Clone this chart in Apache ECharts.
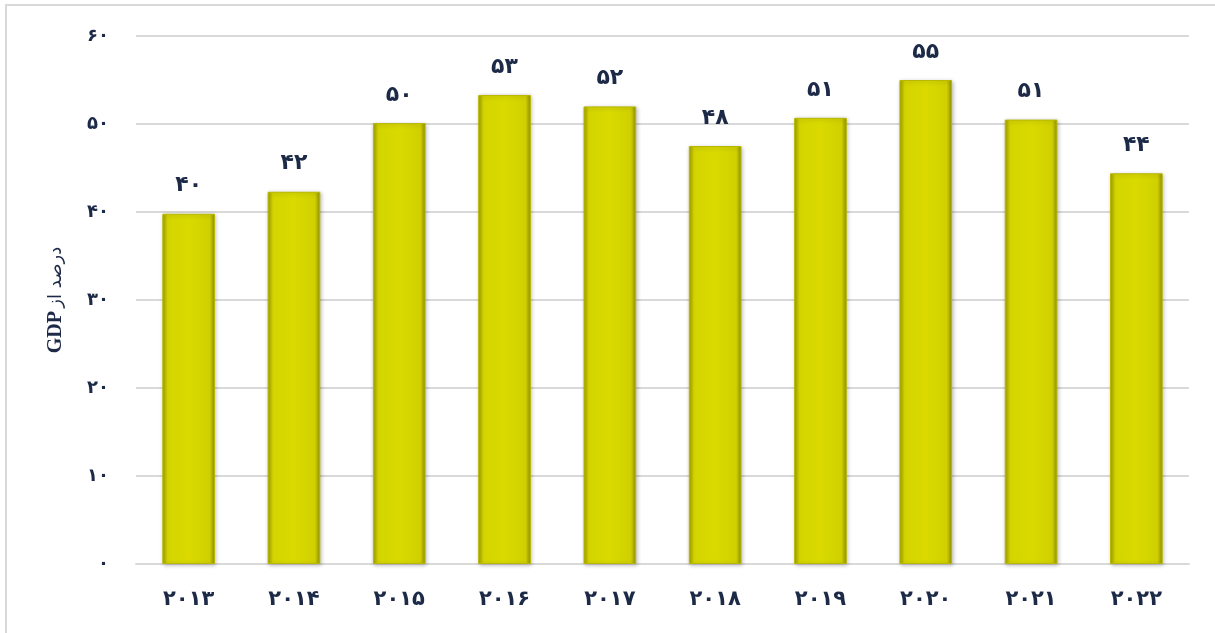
<!DOCTYPE html>
<html>
<head>
<meta charset="utf-8">
<style>
  html, body { margin: 0; padding: 0; background: #fff; overflow: hidden; }
  #frame { position: absolute; left: 5px; top: 4px; width: 1300px; height: 700px; border: 2px solid #d9d9d9; }
  #chart { position: absolute; left: 0; top: 0; width: 1215px; height: 633px; }
</style>
<script src="https://cdn.jsdelivr.net/npm/echarts@6/dist/echarts.min.js"></script>
</head>
<body>
<div id="frame"></div>
<div id="chart"></div>
<script>
// years and share of GDP (percent)
const years = ['2013', '2014', '2015', '2016', '2017', '2018', '2019', '2020', '2021', '2022']
const values = [39.8, 42.3, 50.1, 53.3, 52.0, 47.5, 50.7, 55.0, 50.5, 44.4]
const yTicks = [0, 10, 20, 30, 40, 50, 60]

const faDigits = '۰۱۲۳۴۵۶۷۸۹'
function toFa(v) {
  return String(v).replace(/[0-9]/g, d => faDigits[+d])
}

const textColor = '#1c2a48'
const chart = echarts.init(document.getElementById('chart'))

const option = {
  animation: false,
  grid: { left: 136, right: 26, top: 36, bottom: 69 },
  xAxis: {
    type: 'category',
    data: years,
    axisTick: { show: false },
    axisLine: { lineStyle: { color: '#d9d9d9', width: 2 } },
    axisLabel: {
      margin: 25,
      color: textColor,
      fontFamily: 'DejaVu Sans',
      fontWeight: 'bold',
      fontSize: 21,
      formatter: v => toFa(v)
    }
  },
  yAxis: {
    type: 'value',
    min: yTicks[0],
    max: yTicks[yTicks.length - 1],
    interval: 10,
    name: '{g|GDP} {p|درصد از}',
    nameLocation: 'middle',
    nameRotate: 90,
    nameGap: 70,
    nameTextStyle: {
      color: textColor,
      rich: {
        g: { fontFamily: 'Liberation Serif', fontWeight: 'bold', fontSize: 20, color: textColor },
        p: { fontFamily: 'DejaVu Sans', fontSize: 18, color: textColor }
      }
    },
    axisLabel: {
      margin: 27,
      color: textColor,
      fontFamily: 'DejaVu Sans',
      fontWeight: 'bold',
      fontSize: 18,
      formatter: v => toFa(v)
    },
    splitLine: { lineStyle: { color: '#d9d9d9', width: 2 } }
  },
  series: [{
    type: 'bar',
    data: values,
    barWidth: '50%',
    itemStyle: {
      color: {
        type: 'linear', x: 0, y: 0, x2: 1, y2: 0,
        colorStops: [
          { offset: 0, color: '#9e9e00' },
          { offset: 0.1, color: '#d4d400' },
          { offset: 0.5, color: '#dada00' },
          { offset: 0.9, color: '#d0d000' },
          { offset: 1, color: '#8f8f00' }
        ]
      },
      borderColor: '#b8b800',
      borderWidth: 1,
      shadowColor: 'rgba(0,0,0,0.25)',
      shadowBlur: 4,
      shadowOffsetX: 1,
      shadowOffsetY: 1
    },
    label: {
      show: true,
      position: 'top',
      distance: 17,
      color: textColor,
      fontFamily: 'DejaVu Sans',
      fontWeight: 'bold',
      fontSize: 22,
      formatter: p => toFa(Math.round(p.value))
    }
  }]
}

chart.setOption(option)
</script>
</body>
</html>
